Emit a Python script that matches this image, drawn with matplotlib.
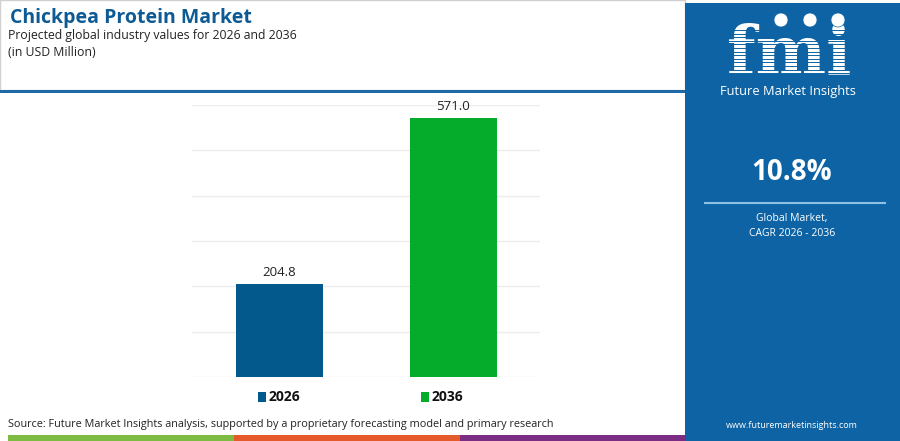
import matplotlib.pyplot as plt
from matplotlib.patches import Rectangle, Circle

plt.rcParams["font.family"] = ["Open Sans", "DejaVu Sans"]

years = ["2026", "2036"]
values = [204.8, 571.0]
bar_colors = ["#03588c", "#05ac2c"]
cagr = "10.8%"
title = "Chickpea Protein Market"
subtitle = "Projected global industry values for 2026 and 2036"
unit = "(in USD Million)"
source = ("Source: Future Market Insights analysis, supported by a proprietary "
          "forecasting model and primary research")

W, H = 900, 441
fig = plt.figure(figsize=(W / 100, H / 100), dpi=100)
fig.patch.set_facecolor("white")


def fx(px):
    return px / W


def fy(py):
    return 1 - py / H


# background pieces
bg = fig.add_axes([0, 0, 1, 1])
bg.set_xlim(0, W)
bg.set_ylim(H, 0)
bg.axis("off")
bg.add_patch(Rectangle((0, 0), 685, 90, facecolor="white",
                       edgecolor="#d0d0d0", lw=1))
bg.add_patch(Rectangle((0, 89.5), 685, 3.5, facecolor="#1f6aa5", lw=0))
panel = "#0d63a3"
bg.add_patch(Rectangle((685, 3), 215, H - 3, facecolor=panel, lw=0))
strip = ["#7dbb42", "#e55a2b", "#7b2d84"]
for i, c in enumerate(strip):
    bg.add_patch(Rectangle((8 + i * 226, 435), 226, 6, facecolor=c, lw=0))

# logo
bg.text(789, 73, "fmi", color="white", fontsize=48, fontweight="bold",
        family="DejaVu Serif", ha="center", va="baseline", zorder=3)
for k in range(13):
    y = 30 + k * 3.6
    bg.plot([715, 865], [y, y], color=panel, lw=0.7, zorder=5)
for cx in [781, 810, 838]:
    bg.add_patch(Circle((cx, 20), 7, facecolor="white", edgecolor=panel,
                        lw=0.5, zorder=6))
bg.text(788, 92, "Future Market Insights", color="white", fontsize=9.3,
        ha="center", va="center")

# CAGR block
bg.text(792, 172, cagr, color="white", fontsize=20, fontweight="bold",
        ha="center", va="center")
bg.plot([705, 885], [203, 203], color="#8fc1e6", lw=1.5)
bg.text(792, 219, "Global Market,", color="white", fontsize=7.5,
        ha="center", va="center")
bg.text(792, 234, "CAGR 2026 - 2036", color="white", fontsize=7.5,
        ha="center", va="center")
bg.text(792, 426, "www.futuremarketinsights.com", color="white", fontsize=6.5,
        ha="center", va="center")

# titles
bg.text(10, 18, title, color="#0d5a94", fontsize=14, fontweight="bold",
        ha="left", va="center")
bg.text(8, 36, subtitle, color="#222222", fontsize=8.8, ha="left", va="center")
bg.text(8, 52, unit, color="#222222", fontsize=8.8, ha="left", va="center")
bg.text(8, 425, source, color="#222222", fontsize=7.8, ha="left", va="center")

# chart
ax = fig.add_axes([fx(192), fy(377), fx(540 - 192), (377 - 105) / H])
x = list(range(len(years)))
ax.bar(x, values, width=0.5, color=bar_colors, zorder=3)
ax.set_xlim(-0.5, 1.5)
ax.set_ylim(0, 600)
ax.set_yticks(range(0, 601, 100))
ax.grid(axis="y", color="#ececec", lw=1, zorder=0)
ax.tick_params(left=False, bottom=False, labelleft=False, labelbottom=False)
for s in ax.spines.values():
    s.set_visible(False)
for xi, v in zip(x, values):
    ax.text(xi, v + 12, f"{v:.1f}", ha="center", va="bottom", fontsize=9.5,
            color="#222222")

# legend
for px, yr, c in [(262, "2026", bar_colors[0]), (425, "2036", bar_colors[1])]:
    bg.add_patch(Rectangle((px - 4, 392), 8, 10, facecolor=c, lw=0))
    bg.text(px + 7, 397, yr, fontsize=10, fontweight="bold", color="#111111",
            ha="left", va="center")

fig.savefig("out.png", dpi=100)
